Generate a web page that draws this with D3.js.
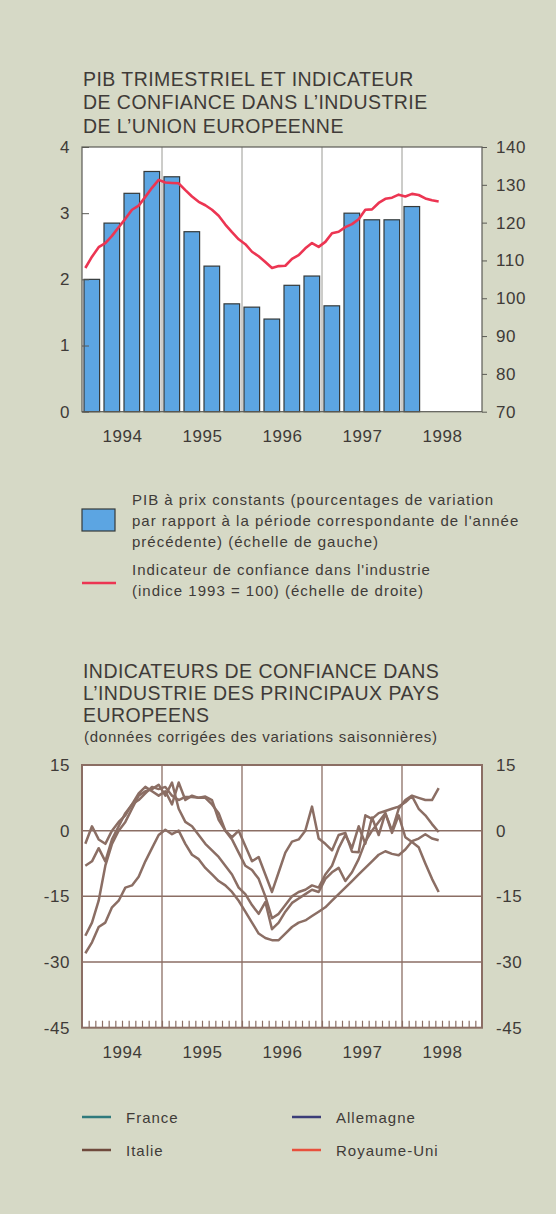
<!DOCTYPE html>
<html>
<head>
<meta charset="utf-8">
<script src="https://cdn.jsdelivr.net/npm/d3@7"></script>
<style>
  body { margin: 0; background: #d6d9c6; }
  svg { display: block; }
  text { font-family: "Liberation Sans", Arial, sans-serif; fill: #3f3b38; }
</style>
</head>
<body>
<svg width="556" height="1214"></svg>
<script>
// --- donnees ---
var years = [1994, 1995, 1996, 1997, 1998];

// PIB trimestriel, 1994 T1 -> 1998 T1 (% variation, echelle de gauche)
var pib = [2.0, 2.85, 3.3, 3.63, 3.55, 2.72, 2.2, 1.63, 1.58, 1.4, 1.91, 2.05, 1.6, 3.0, 2.9, 2.9, 3.1];

// indicateur de confiance UE, mensuel jan 1994 -> juin 1998 (indice 1993 = 100)
var confianceUE = [108.0, 111.0, 113.5, 114.6, 116.5, 118.8, 121.0, 123.4, 124.5, 126.8, 129.2, 131.3,
    130.6, 130.5, 130.4, 128.6, 126.9, 125.5, 124.6, 123.4, 121.8, 119.5, 117.5, 115.6,
    114.3, 112.3, 111.1, 109.6, 108.0, 108.5, 108.6, 110.4, 111.4, 113.2, 114.6, 113.6,
    114.9, 117.2, 117.6, 118.8, 119.6, 120.9, 123.4, 123.5, 125.2, 126.3, 126.6, 127.4,
    126.9, 127.6, 127.3, 126.4, 125.9, 125.6];

// confiance par pays, mensuel jan 1994 -> juin 1998
var royaumeUni = [-3, 1, -2, -3, 0, 2, 3.5, 6, 7, 8.5, 10, 9.5,
    10, 8, 7, 7.7, 7.7, 7.5, 7.8, 7, 2.5, 0, -1.5, 0,
    -3.5, -7, -6, -10, -14, -9.5, -5, -2.5, -2, 0, 5.5, -1.8,
    -3, -4.5, -1, -0.5, -4.8, -4.9, 3.5, 2.7, 4, 4.5, 5, 5.5,
    6.5, 7.9, 5, 3.5, 1.5, -0.3];
var allemagne = [-8, -7, -4, -7, -2, 1, 4, 6, 8.5, 10, 9, 8,
    9, 6, 11, 7, 8, 7.5, 7.5, 6, 4, 0, -2, -5,
    -8, -9, -11, -15, -20, -19, -17, -15, -14, -13.5, -12.5, -13,
    -10, -8, -4, -1, -4, 1, -3, 3, -1, 4, 0, 5,
    7, 8, 7.5, 7, 7, 9.7];
var italie = [-24, -21, -16, -8, -3, 0, 2, 5, 8, 9, 9.5, 10.5,
    8, 11, 5, 2, 1, -1, -3, -4.5, -6, -8, -10, -13,
    -14.5, -17, -19, -16.3, -22.5, -21, -18.5, -16.5, -15.5, -14.5, -13.5, -14,
    -11, -9.5, -8.5, -11.5, -9.5, -6.5, -2.5, 0, 2, 4, -0.5, 3.5,
    -1.5, -2.6, -3.8, -7.5, -11, -14];
var france = [-28, -25.5, -22, -21, -17.5, -16, -13, -12.5, -10.5, -7, -4, -1,
    0.2, -0.8, 0, -3, -5.5, -6.5, -8.5, -10, -11.5, -12.5, -14, -16,
    -18.5, -21, -23.5, -24.5, -25, -25, -23.5, -22, -21, -20.5, -19.5, -18.5,
    -17.5, -16, -14.5, -13, -11.5, -10, -8.5, -7, -5.5, -4.7, -5.3, -5.6,
    -4.3, -2.4, -1.8, -0.8, -1.8, -2.2];

var pays = [france, allemagne, italie, royaumeUni];
var legendePays = ["France", "Allemagne", "Italie", "Royaume-Uni"];
var couleursLegende = ["#2f7a7c", "#3b3d78", "#6f4a3c", "#e8503c"];

var svg = d3.select("svg");
var brun = "#8b6e64";
var fmt = function(d) { return String(d); }; // trait d'union simple, pas de signe moins

svg.append("rect").attr("width", 556).attr("height", 1214).attr("fill", "#d6d9c6");

// ================= graphique 1 =================
var top1 = 147, bottom1 = 411.7, left = 82, right = 482;

var x = d3.scaleLinear().domain([1994, 1999]).range([left, right]);
var yL = d3.scaleLinear().domain([0, 4]).range([bottom1, top1]);
var yR = d3.scaleLinear().domain([70, 140]).range([bottom1, top1]);

var titre1 = ["PIB TRIMESTRIEL ET INDICATEUR", "DE CONFIANCE DANS L\u2019INDUSTRIE", "DE L\u2019UNION EUROPEENNE"];
svg.append("g").selectAll("text").data(titre1).enter().append("text")
    .attr("x", 83).attr("y", function(d, i) { return 86 + i * 23.4; })
    .attr("font-size", 19.5).attr("letter-spacing", 0.45).text(function(d) { return d; });

var g1 = svg.append("g");
g1.append("rect").attr("x", left).attr("y", top1).attr("width", right - left).attr("height", bottom1 - top1)
    .attr("fill", "#fff");

// lignes verticales des annees
g1.selectAll(".grid").data(years.slice(1)).enter().append("line")
    .attr("x1", function(d) { return x(d); }).attr("x2", function(d) { return x(d); })
    .attr("y1", top1).attr("y2", bottom1)
    .attr("stroke", "#9a9a94").attr("stroke-width", 1);

// barres PIB
var step = x(1994.25) - x(1994);
g1.selectAll(".bar").data(pib).enter().append("rect")
    .attr("class", "bar")
    .attr("x", function(d, i) { return x(1994 + i / 4) + step * 0.1; })
    .attr("y", function(d) { return yL(d); })
    .attr("width", step * 0.78)
    .attr("height", function(d) { return bottom1 - yL(d); })
    .attr("fill", "#5ca5e2").attr("stroke", "#353a3a").attr("stroke-width", 1.2);

// ligne confiance
var ligne1 = d3.line()
    .x(function(d, i) { return x(1994 + (i + 0.5) / 12); })
    .y(function(d) { return yR(d); });
g1.append("path").datum(confianceUE).attr("d", ligne1)
    .attr("fill", "none").attr("stroke", "#ec3552").attr("stroke-width", 2.6)
    .attr("stroke-linejoin", "round");

g1.append("rect").attr("x", left).attr("y", top1).attr("width", right - left).attr("height", bottom1 - top1)
    .attr("fill", "none").attr("stroke", "#5a5a55").attr("stroke-width", 1.2);

// axes
var axL = g1.append("g").attr("transform", "translate(" + left + ",0)")
    .call(d3.axisLeft(yL).tickValues([0, 1, 2, 3, 4]).tickSize(-7).tickPadding(12).tickFormat(fmt));
var axR = g1.append("g").attr("transform", "translate(" + right + ",0)")
    .call(d3.axisRight(yR).tickValues(d3.range(70, 141, 10)).tickSize(5).tickPadding(9).tickFormat(fmt));
var axX = g1.append("g").attr("transform", "translate(0," + bottom1 + ")")
    .call(d3.axisBottom(x).tickValues(years.map(function(d) { return d + 0.5; }))
        .tickSize(0).tickPadding(18).tickFormat(function(d) { return Math.floor(d); }));
[axL, axR, axX].forEach(function(a) {
    a.select(".domain").remove();
    a.selectAll("line").attr("stroke", "#5a5a55");
    a.selectAll("text").attr("font-size", 17).attr("fill", "#3f3b38").attr("letter-spacing", 0.6)
        .style("font-family", "'Liberation Sans', Arial, sans-serif");
});

// legende 1
var leg1 = svg.append("g");
leg1.append("rect").attr("x", 82).attr("y", 509).attr("width", 33).attr("height", 22)
    .attr("fill", "#5ca5e2").attr("stroke", "#353a3a").attr("stroke-width", 1.2);
var texteLeg1 = ["PIB \u00e0 prix constants (pourcentages de variation",
    "par rapport \u00e0 la p\u00e9riode correspondante de l'ann\u00e9e",
    "pr\u00e9c\u00e9dente) (\u00e9chelle de gauche)"];
leg1.selectAll(".t1").data(texteLeg1).enter().append("text")
    .attr("x", 132).attr("y", function(d, i) { return 505 + i * 21; })
    .attr("font-size", 15).attr("letter-spacing", 1).text(function(d) { return d; });
leg1.append("line").attr("x1", 82).attr("x2", 116).attr("y1", 583).attr("y2", 583)
    .attr("stroke", "#ec3552").attr("stroke-width", 2.5);
var texteLeg2 = ["Indicateur de confiance dans l'industrie", "(indice 1993 = 100) (\u00e9chelle de droite)"];
leg1.selectAll(".t2").data(texteLeg2).enter().append("text")
    .attr("x", 132).attr("y", function(d, i) { return 575 + i * 21; })
    .attr("font-size", 15).attr("letter-spacing", 1).text(function(d) { return d; });

// ================= graphique 2 =================
var top2 = 765, bottom2 = 1027.7;
var y2 = d3.scaleLinear().domain([-45, 15]).range([bottom2, top2]);

var titre2 = ["INDICATEURS DE CONFIANCE DANS", "L\u2019INDUSTRIE DES PRINCIPAUX PAYS", "EUROPEENS"];
svg.append("g").selectAll("text").data(titre2).enter().append("text")
    .attr("x", 83).attr("y", function(d, i) { return 678 + i * 22; })
    .attr("font-size", 19.5).attr("letter-spacing", 0.45).text(function(d) { return d; });
svg.append("text").attr("x", 84).attr("y", 742).attr("font-size", 15).attr("letter-spacing", 0.75)
    .text("(donn\u00e9es corrig\u00e9es des variations saisonni\u00e8res)");

var g2 = svg.append("g");
g2.append("rect").attr("x", left).attr("y", top2).attr("width", right - left).attr("height", bottom2 - top2)
    .attr("fill", "#fff");

g2.selectAll(".hgrid").data([-30, -15, 0]).enter().append("line")
    .attr("x1", left).attr("x2", right)
    .attr("y1", function(d) { return y2(d); }).attr("y2", function(d) { return y2(d); })
    .attr("stroke", brun).attr("stroke-width", 1.5);
g2.selectAll(".vgrid").data(years.slice(1)).enter().append("line")
    .attr("x1", function(d) { return x(d); }).attr("x2", function(d) { return x(d); })
    .attr("y1", top2).attr("y2", bottom2)
    .attr("stroke", brun).attr("stroke-width", 1.3);

// petits traits mensuels
var mois = d3.range(1, 60).map(function(k) { return 1994 + k / 12; });
g2.append("g").attr("transform", "translate(0," + bottom2 + ")")
    .call(d3.axisBottom(x).tickValues(mois).tickSize(-7).tickFormat(""))
    .call(function(a) {
        a.select(".domain").remove();
        a.selectAll("line").attr("stroke", brun).attr("stroke-width", 1.2);
    });

var ligne2 = d3.line()
    .x(function(d, i) { return x(1994 + (i + 0.5) / 12); })
    .y(function(d) { return y2(d); });
g2.selectAll(".pays").data(pays).enter().append("path")
    .attr("class", "pays")
    .attr("d", ligne2)
    .attr("fill", "none").attr("stroke", brun).attr("stroke-width", 2.5)
    .attr("stroke-linejoin", "round");

g2.append("rect").attr("x", left).attr("y", top2).attr("width", right - left).attr("height", bottom2 - top2)
    .attr("fill", "none").attr("stroke", brun).attr("stroke-width", 2);

var ticks2 = d3.range(-45, 16, 15);
var ax2L = g2.append("g").attr("transform", "translate(" + left + ",0)")
    .call(d3.axisLeft(y2).tickValues(ticks2).tickSize(0).tickPadding(12).tickFormat(fmt));
var ax2R = g2.append("g").attr("transform", "translate(" + right + ",0)")
    .call(d3.axisRight(y2).tickValues(ticks2).tickSize(0).tickPadding(14).tickFormat(fmt));
var ax2X = g2.append("g").attr("transform", "translate(0," + bottom2 + ")")
    .call(d3.axisBottom(x).tickValues(years.map(function(d) { return d + 0.5; }))
        .tickSize(0).tickPadding(18).tickFormat(function(d) { return Math.floor(d); }));
[ax2L, ax2R, ax2X].forEach(function(a) {
    a.select(".domain").remove();
    a.selectAll("text").attr("font-size", 17).attr("fill", "#3f3b38").attr("letter-spacing", 0.6)
        .style("font-family", "'Liberation Sans', Arial, sans-serif");
});

// legende 2
var leg2 = svg.append("g").selectAll("g").data(legendePays).enter().append("g")
    .attr("transform", function(d, i) {
        return "translate(" + (i % 2 ? 292 : 82) + "," + (i < 2 ? 1117 : 1150) + ")";
    });
leg2.append("line").attr("x1", 0).attr("x2", 29).attr("y1", 0).attr("y2", 0)
    .attr("stroke", function(d, i) { return couleursLegende[i]; }).attr("stroke-width", 2.5);
leg2.append("text").attr("x", 44).attr("y", 5.5).attr("font-size", 15).attr("letter-spacing", 1)
    .text(function(d) { return d; });
</script>
</body>
</html>
